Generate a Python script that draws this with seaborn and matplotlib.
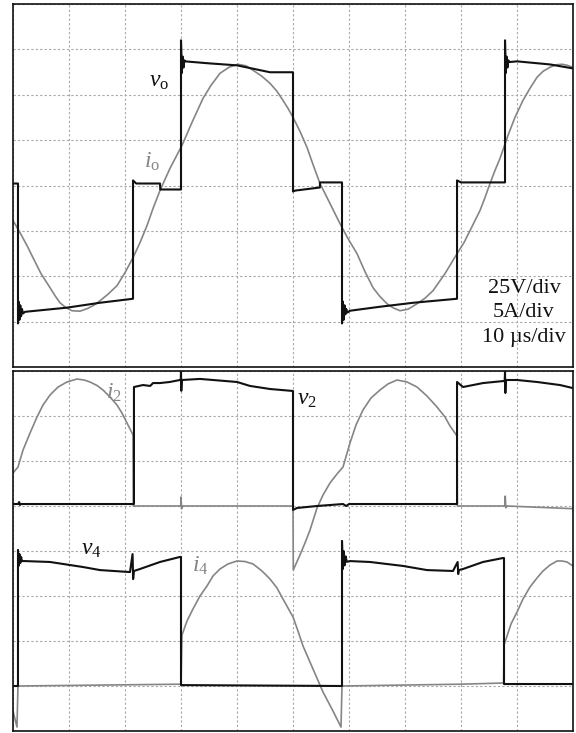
import numpy as np
import matplotlib
matplotlib.use("Agg")
import matplotlib.pyplot as plt
import seaborn as sns

# escalas del osciloscopio
V_DIV = 25.0   # V/div
A_DIV = 5.0    # A/div

# ---- panel superior: tension de salida v_o (V) y corriente i_o (A), tiempo en us
t_vo = [0, 0.89, 0.89, 1.0, 1.15, 1.3, 1.45, 1.6, 1.8, 2.14, 9.64, 15.54, 21.43, 21.43, 22.0,
        26.25, 26.3, 30.0, 30.0, 30.15, 30.3, 30.45, 30.6, 30.71, 35.0, 40.0, 45.89, 50.0, 50.0,
        50.4, 54.8, 54.82, 58.75, 58.75, 58.9, 59.05, 59.2, 59.35, 59.5, 59.7, 60.18, 65.54, 71.5,
        79.29, 79.29, 80.0, 87.86, 87.86, 88.0, 88.15, 88.3, 88.45, 88.6, 90.0, 95.9, 100]
vo = [1.1, 1.1, -76, -64, -74, -66, -72, -68, -70.5, -69.6, -67.3, -64.6, -62.4, 2.8, 1.1,
      1.1, -2.2, -2.2, 80, 62, 71, 65, 69, 68.4, 67.3, 66.2, 62.4, 62.4, -3.3,
      -2.8, -1.1, 1.7, 1.7, -76, -64, -74, -66, -71, -68, -70, -69, -66.8, -64.6,
      -62.4, 2.8, 1.7, 1.7, 80, 62, 71, 65, 69, 68, 68.4, 66.7, 64.5]

t_io = [0, 1.25, 2.5, 3.57, 5.0, 6.61, 7.5, 8.39, 9.46, 10.54, 11.96, 13.21, 14.46, 15.54, 16.96,
        18.57, 20.0, 21.43, 22.68, 23.93, 25.0, 26.25, 28.04, 30.18, 31.96, 33.93, 35.36, 36.96,
        38.57, 40.18, 41.61, 42.86, 44.46, 45.89, 47.14, 48.21, 49.11, 50.0, 51.25, 52.5, 53.57,
        54.82, 56.61, 58.39, 59.82, 61.43, 62.86, 64.29, 65.54, 66.79, 67.86, 69.11, 70.54, 72.14,
        73.57, 75.0, 77.14, 79.29, 80.54, 81.61, 82.5, 83.39, 84.29, 85.18, 86.07, 86.96, 88.39,
        89.64, 91.07, 92.32, 93.57, 94.64, 95.89, 96.96, 98.04, 98.93, 100]
io = [-3.86, -5.19, -6.62, -7.95, -9.71, -11.26, -12.14, -12.92, -13.47, -13.8, -13.85, -13.58,
      -13.19, -12.7, -11.98, -11.04, -9.6, -7.95, -6.29, -4.42, -2.54, -0.55, 1.9, 4.42, 6.95,
      9.6, 11.04, 12.36, 13.03, 13.36, 13.19, 12.7, 12.03, 11.26, 10.38, 9.38, 8.5, 7.51, 5.96,
      4.2, 2.32, 0.22, -1.99, -4.2, -5.85, -7.51, -9.5, -11.26, -12.25, -13.03, -13.47, -13.8,
      -13.63, -13.03, -12.42, -11.59, -9.71, -7.51, -6.29, -4.97, -3.86, -2.76, -1.32, 0.22,
      1.66, 2.98, 5.52, 7.51, 9.38, 10.71, 11.92, 12.58, 13.03, 13.3, 13.36, 13.25, 13.03]

# ---- panel inferior: v2/i2 (referencia en la division 5) y v4/i4 (referencia en la division 1)
t_v2 = [0, 0.89, 1.1, 1.25, 1.4, 21.43, 21.6, 21.6, 23.21, 24.5, 25.0, 26.25, 28.0, 29.82, 29.95,
        30.0, 30.05, 30.15, 33.39, 40.0, 42.32, 45.89, 50.0, 50.0, 50.71, 54.29, 58.93, 59.5, 60.0,
        78.04, 79.29, 79.29, 80.36, 83.93, 87.5, 87.8, 87.86, 87.92, 88.0, 90.0, 93.57, 97.68, 100]
v2 = [1.1, 1.1, 2.2, 0.6, 1.1, 1.1, 1.1, 66.1, 67.2, 66.7, 68.3, 68.3, 68.9, 70.0, 70.0,
      75.0, 64.0, 70.0, 70.6, 68.9, 66.7, 65.0, 63.9, -2.2, -1.1, 0.0, 1.1, 0.0, 1.1,
      1.1, 1.1, 68.9, 66.1, 68.3, 69.4, 69.4, 74.5, 62.8, 70.0, 70.0, 68.9, 67.2, 65.5]

t_i2 = [0, 0.89, 1.79, 3.04, 4.29, 5.36, 6.61, 8.04, 9.64, 11.43, 12.68, 13.75, 15.0, 16.07,
        17.32, 18.57, 19.46, 20.36, 21.43, 21.5, 29.95, 30.0, 30.1, 30.3, 50.0, 50.05, 51.25,
        52.14, 53.04, 54.29, 55.36, 56.61, 57.86, 58.93, 60.18, 61.25, 62.5, 63.93, 65.54, 66.96,
        68.57, 70.36, 72.14, 73.93, 75.71, 77.14, 78.04, 79.29, 79.35, 87.86, 87.9, 88.0, 88.2, 100]
i2 = [3.67, 4.33, 6.22, 8.11, 9.89, 11.22, 12.33, 13.22, 13.78, 14.11, 14.0, 13.78, 13.39, 12.89,
      12.11, 11.22, 10.33, 9.22, 7.89, 0.0, 0.0, 1.0, -0.3, 0.0, 0.0, -7.1, -5.44,
      -4.11, -2.67, -0.22, 1.22, 2.56, 3.56, 4.33, 7.0, 9.0, 10.67, 12.0, 12.89, 13.56,
      14.0, 13.78, 13.22, 12.22, 11.0, 9.89, 8.89, 7.78, 0.0, 0.0, 1.1, -0.2, 0.0, -0.3]

t_v4 = [0, 0.89, 0.89, 1.0, 1.15, 1.3, 1.45, 1.6, 2.14, 6.61, 12.5, 15.54, 20.89, 21.35, 21.45,
        21.6, 22.68, 26.25, 29.82, 30.0, 30.0, 30.2, 58.75, 58.75, 58.9, 59.05, 59.2, 59.4, 59.6,
        60.18, 63.75, 69.64, 73.93, 78.57, 79.4, 79.5, 79.6, 80.36, 83.93, 87.5, 87.68, 87.68, 100]
v4 = [0.0, 0.0, 75.6, 66.7, 73.3, 68.3, 71.7, 69.4, 69.4, 68.9, 66.1, 64.4, 63.3, 73.3, 59.4,
      63.9, 65.0, 68.9, 71.7, 71.7, 0.5, 0.5, 0.0, 80.6, 65.0, 75.0, 67.0, 72.0, 69.0,
      69.4, 68.9, 66.7, 64.4, 63.9, 68.9, 62.2, 64.4, 65.0, 68.9, 71.1, 71.1, 1.1, 1.1]

t_i4 = [0, 0.71, 0.89, 29.82, 30.0, 30.18, 31.07, 32.14, 33.39, 34.64, 35.71, 36.96, 38.39, 40.0,
        41.43, 42.86, 44.46, 45.89, 47.14, 48.21, 50.0, 50.89, 51.79, 53.57, 55.36, 57.14, 58.57,
        58.75, 79.82, 87.6, 87.7, 88.04, 88.93, 90.0, 91.07, 92.32, 93.57, 94.64, 95.89, 97.14,
        98.04, 98.93, 100]
i4 = [-2.78, -4.56, 0.0, 0.2, 0.2, 5.67, 7.22, 8.56, 10.0, 11.11, 12.22, 13.0, 13.56, 13.89,
      13.83, 13.56, 12.78, 11.89, 10.89, 9.67, 7.67, 6.11, 4.44, 1.89, -0.67, -2.78, -4.56,
      0.0, 0.2, 0.33, 4.6, 5.22, 6.89, 8.22, 9.67, 11.0, 12.0, 12.78, 13.44, 13.89,
      13.89, 13.78, 13.33]

scale_text = ["25V/div", "5A/div", "10 \u00b5s/div"]

sns.set_theme(style="white")
plt.rcParams['font.family'] = ['Liberation Serif', 'DejaVu Sans']
plt.rcParams['mathtext.fontset'] = 'custom'
plt.rcParams['mathtext.rm'] = 'Liberation Serif'
plt.rcParams['mathtext.it'] = 'Liberation Serif:italic'

BLACK = '#111111'
GREY = '#858585'

fig = plt.figure(figsize=(5.76, 7.33), dpi=100)
ax1 = fig.add_axes([13 / 576, 1 - 367 / 733, 560 / 576, 363 / 733])
ax2 = fig.add_axes([13 / 576, 2 / 733, 560 / 576, 360 / 733])


def scope_axes(ax, y0, y1):
    ax.set_xlim(0, 100)
    ax.set_ylim(y0, y1)
    ax.set_xticks(np.arange(0, 101, 10))
    ax.set_yticks(np.arange(y0, y1 + 1, 1))
    ax.tick_params(length=0, labelbottom=False, labelleft=False)
    ax.grid(True, color='#a8a8a8', linestyle=(0, (2, 2)), linewidth=0.8)
    ax.set_axisbelow(True)
    ax.set_xlabel('')
    ax.set_ylabel('')
    for s in ax.spines.values():
        s.set_color(BLACK)
        s.set_linewidth(1.2)


# panel superior
sns.lineplot(x=t_io, y=np.array(io) / A_DIV, ax=ax1, color=GREY, linewidth=1.2,
             estimator=None, sort=False, legend=False)
sns.lineplot(x=t_vo, y=np.array(vo) / V_DIV, ax=ax1, color=BLACK, linewidth=1.5,
             estimator=None, sort=False, legend=False)
scope_axes(ax1, -4, 4)

ax1.text(26.0, 2.3, r'$v_\mathrm{o}$', fontsize=17, color=BLACK, ha='center', va='center')
ax1.text(24.9, 0.52, r'$i_\mathrm{o}$', fontsize=17, color=GREY, ha='center', va='center')
for s, yf in zip(scale_text, [0.2176, 0.1488, 0.0799]):
    ax1.text(0.9125, yf, s, transform=ax1.transAxes, fontsize=16, color=BLACK,
             ha='center', va='center')

# panel inferior
sns.lineplot(x=t_i2, y=5 + np.array(i2) / A_DIV, ax=ax2, color=GREY, linewidth=1.2,
             estimator=None, sort=False, legend=False)
sns.lineplot(x=t_i4, y=1 + np.array(i4) / A_DIV, ax=ax2, color=GREY, linewidth=1.2,
             estimator=None, sort=False, legend=False)
sns.lineplot(x=t_v2, y=5 + np.array(v2) / V_DIV, ax=ax2, color=BLACK, linewidth=1.5,
             estimator=None, sort=False, legend=False)
sns.lineplot(x=t_v4, y=1 + np.array(v4) / V_DIV, ax=ax2, color=BLACK, linewidth=1.5,
             estimator=None, sort=False, legend=False)
scope_axes(ax2, 0, 8)

ax2.text(17.95, 7.52, r'$i_2$', fontsize=17, color=GREY, ha='center', va='center')
ax2.text(52.4, 7.36, r'$v_2$', fontsize=17, color=BLACK, ha='center', va='center')
ax2.text(14.0, 4.03, r'$v_4$', fontsize=17, color=BLACK, ha='center', va='center')
ax2.text(33.4, 3.66, r'$i_4$', fontsize=17, color=GREY, ha='center', va='center')

fig.savefig("out.png", dpi=100)
